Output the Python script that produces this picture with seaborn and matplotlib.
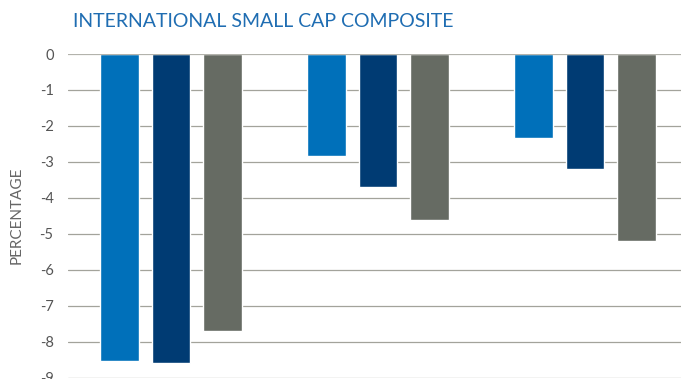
import matplotlib
matplotlib.use("Agg")
import matplotlib.pyplot as plt
import seaborn as sns
import pandas as pd

# ---- data ----
periods = ["Period 1", "Period 2", "Period 3"]
series = ["Composite", "Benchmark A", "Benchmark B"]
composite = [-8.53, -2.83, -2.33]
benchmark_a = [-8.60, -3.71, -3.21]
benchmark_b = [-7.72, -4.61, -5.21]
y_ticks = [0, -1, -2, -3, -4, -5, -6, -7, -8, -9]
y_tick_labels = ["0", "-1", "-2", "-3", "-4", "-5", "-6", "-7", "-8", "-9"]
title_text = "INTERNATIONAL SMALL CAP COMPOSITE"
y_label = "PERCENTAGE"

colors = ["#0070BA", "#003B73", "#666B63"]

rows = []
for s, vals in zip(series, [composite, benchmark_a, benchmark_b]):
    for p, v in zip(periods, vals):
        rows.append({"period": p, "series": s, "value": v})
df = pd.DataFrame(rows)

sns.set_theme(style="white")
plt.rcParams["font.family"] = ["Lato", "DejaVu Sans"]

W, H = 681, 379
fig = plt.figure(figsize=(W / 100, H / 100), dpi=100)
left, right = 67.5, 688.5
top, bottom = 54.0, 377.5
ax = fig.add_axes([left / W, (H - bottom) / H, (right - left) / W, (bottom - top) / H])

sns.barplot(data=df, x="period", y="value", hue="series", order=periods,
            hue_order=series, palette=colors, width=0.75, gap=0.25,
            saturation=1, legend=False, ax=ax, zorder=2)

ax.set_ylim(-9, 0)
ax.set_xlim(-0.5, 2.5)
ax.set_yticks(y_ticks)
ax.set_yticklabels(y_tick_labels, fontsize=10.5, color="#555555")
ax.set_xticks([])
ax.set_xlabel("")
ax.set_ylabel(y_label, fontsize=11, color="#666666")
ax.yaxis.set_label_coords(-(left - 17) / (right - left), 0.5)
ax.yaxis.label.set_va("center")
ax.tick_params(axis="y", length=0, pad=10)

for t in y_ticks:
    if t == 0:
        ax.axhline(t, color="#b3b3ac", lw=1.6, zorder=3)
    else:
        ax.axhline(t, color="#a3a39b", lw=0.9, zorder=1)

for sp in ax.spines.values():
    sp.set_visible(False)

fig.text(73 / W, 1 - 21.5 / H, title_text, fontsize=14, color="#1F6DB2",
         ha="left", va="center")

fig.savefig("out.png", dpi=100)
